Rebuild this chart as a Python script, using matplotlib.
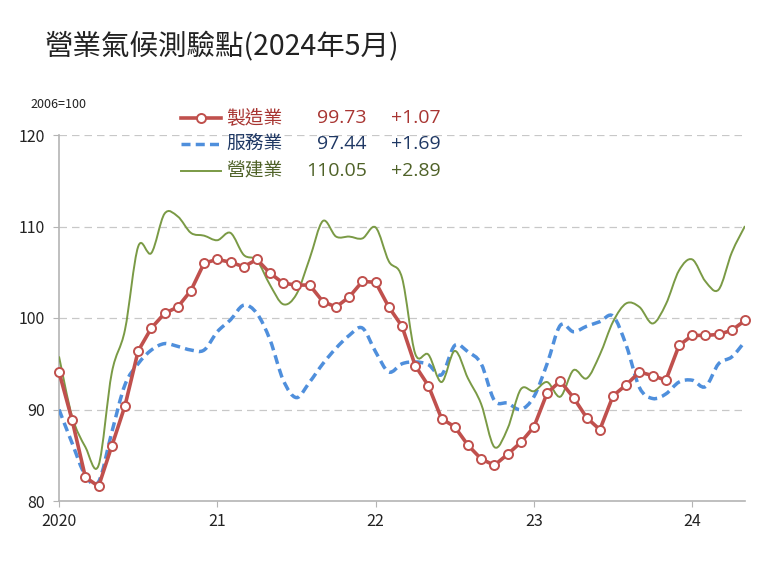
import matplotlib.pyplot as plt
from matplotlib.lines import Line2D
from matplotlib.path import Path
from matplotlib.patches import PathPatch

plt.rcParams['font.family'] = ['Noto Sans CJK TC', 'DejaVu Sans']

# monthly index, Jan 2020 .. May 2024 (2006=100)
months = list(range(53))
year_ticks = [0, 12, 24, 36, 48]
year_labels = ["2020", "21", "22", "23", "24"]

manufacturing = [94.1, 88.8, 82.6, 81.6, 86.0, 90.4, 96.4, 98.9, 100.5, 101.2, 103.0, 106.0,
                 106.4, 106.1, 105.6, 106.4, 104.9, 103.8, 103.6, 103.6, 101.8, 101.2, 102.3, 104.0,
                 103.9, 101.2, 99.1, 94.8, 92.6, 89.0, 88.1, 86.1, 84.6, 83.9, 85.1, 86.4,
                 88.1, 91.8, 93.1, 91.3, 89.1, 87.8, 91.5, 92.7, 94.1, 93.7, 93.2, 97.0,
                 98.1, 98.1, 98.2, 98.66, 99.73]
services = [90.0, 86.3, 82.8, 82.1, 87.5, 92.7, 95.0, 96.5, 97.2, 96.9, 96.5, 96.5,
            98.5, 99.8, 101.4, 100.5, 97.6, 93.2, 91.3, 93.0, 95.0, 96.7, 98.1, 98.9,
            96.3, 94.1, 95.0, 95.2, 94.9, 93.8, 97.0, 96.3, 95.0, 91.0, 90.7, 90.0,
            91.4, 95.0, 99.2, 98.5, 99.1, 99.6, 100.2, 97.0, 92.4, 91.2, 91.7, 93.0,
            93.2, 92.5, 95.0, 95.75, 97.44]
construction = [95.8, 89.2, 85.9, 83.9, 94.0, 98.7, 107.8, 107.1, 111.4, 111.1, 109.3, 109.0,
                108.5, 109.3, 106.9, 106.3, 103.6, 101.5, 102.6, 106.5, 110.6, 108.9, 108.9, 108.7,
                109.9, 106.2, 104.4, 96.1, 96.0, 93.0, 96.4, 93.4, 90.6, 85.9, 87.9, 92.2,
                92.0, 93.0, 91.4, 94.3, 93.4, 96.0, 99.6, 101.6, 101.2, 99.4, 101.5, 105.2,
                106.4, 104.0, 103.1, 107.16, 110.05]

names = ["製造業", "服務業", "營建業"]
latest = ["99.73", "97.44", "110.05"]
change = ["+1.07", "+1.69", "+2.89"]

RED, BLUE, GREEN = "#C0504D", "#4F8FDC", "#7A9A45"
TEXT_COLORS = ["#A83532", "#1F3864", "#4F6228"]
NUM_FONT = ['Open Sans', 'DejaVu Sans']


def smooth(x, y):
    # excel-style smoothed line: cubic bezier through every point
    verts = [(x[0], y[0])]
    codes = [Path.MOVETO]
    n = len(x)
    for i in range(n - 1):
        xa, ya = (x[i - 1], y[i - 1]) if i > 0 else (x[i], y[i])
        xb, yb = (x[i + 2], y[i + 2]) if i + 2 < n else (x[i + 1], y[i + 1])
        verts.append((x[i] + (x[i + 1] - xa) / 6, y[i] + (y[i + 1] - ya) / 6))
        verts.append((x[i + 1] - (xb - x[i]) / 6, y[i + 1] - (yb - y[i]) / 6))
        verts.append((x[i + 1], y[i + 1]))
        codes += [Path.CURVE4] * 3
    return Path(verts, codes)


fig = plt.figure(figsize=(7.8, 5.85), dpi=100)
ax = fig.add_axes([59 / 780, 1 - 501 / 585, (745 - 59) / 780, (501 - 135) / 585])

ax.add_patch(PathPatch(smooth(months, services), fill=False, ec=BLUE, lw=2.5,
                       ls=(0, (2.6, 1.5)), zorder=3))
ax.add_patch(PathPatch(smooth(months, construction), fill=False, ec=GREEN, lw=1.4, zorder=3))
ax.plot(months, manufacturing, color=RED, lw=2.6, marker="o", ms=6.5, mfc="white",
        mec=RED, mew=1.4, zorder=4, clip_on=False)

ax.set_xlim(0, 52)
ax.set_ylim(80, 120)
ax.set_yticks([80, 90, 100, 110, 120])
ax.set_xticks(year_ticks)
ax.set_xticklabels(year_labels)
for v in [90, 100, 110, 120]:
    ax.axhline(v, color="#C8C8C8", lw=0.9, ls=(0, (6, 4)), zorder=1)

for s in ["top", "right"]:
    ax.spines[s].set_visible(False)
for s in ["left", "bottom"]:
    ax.spines[s].set_color("#B4B4B4")
    ax.spines[s].set_linewidth(1.2)
ax.tick_params(axis="both", colors="#B4B4B4", labelcolor="#222222", labelsize=11.5,
               direction="out", length=4)
ax.tick_params(axis="y", pad=6)
ax.tick_params(axis="x", pad=5)

fig.text(45 / 780, 1 - 47 / 585, "營業氣候測驗點(2024年5月)", fontsize=20.5,
         va="center", ha="left", color="#222222")
fig.text(30 / 780, 1 - 104 / 585, "2006=100", fontsize=9, va="center", ha="left",
         color="#222222")

# legend rows with latest value and monthly change
rows_y = [118, 144, 171]
samples = [dict(color=RED, lw=2.6, marker="o", ms=6.5, mfc="white", mec=RED, mew=1.4,
                markevery=[1]),
           dict(color=BLUE, lw=2.5, ls=(0, (2.6, 1.5))),
           dict(color=GREEN, lw=1.4)]
for i in range(3):
    yy = 1 - rows_y[i] / 585
    fig.add_artist(Line2D([181 / 780, 201 / 780, 221 / 780], [yy, yy, yy],
                          transform=fig.transFigure, **samples[i]))
    fig.text(226 / 780, yy, names[i], fontsize=13.5, va="center", ha="left", color=TEXT_COLORS[i])
    fig.text(367 / 780, yy, latest[i], fontsize=14, va="center", ha="right",
             color=TEXT_COLORS[i], family=NUM_FONT)
    fig.text(391 / 780, yy, change[i], fontsize=14, va="center", ha="left",
             color=TEXT_COLORS[i], family=NUM_FONT)

fig.savefig("out.png", dpi=100)
